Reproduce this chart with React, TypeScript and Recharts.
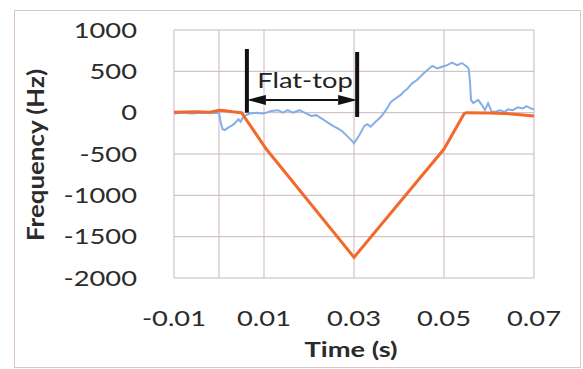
import React from 'react';
import { LineChart, Line, XAxis, YAxis, CartesianGrid, ReferenceLine } from 'recharts';

// Orange trace (reference frequency ramp)
const orangeTimes = [-0.01, -0.005, -0.002, 0.0, 0.001, 0.003, 0.005, 0.0105, 0.03, 0.05, 0.0545, 0.055, 0.06, 0.065, 0.07];
const orangeValues = [5, 10, 5, 30, 25, 10, 0, -440, -1750, -440, -10, 0, -5, -15, -40];

// Blue trace (measured frequency)
const blueTimes = [
  -0.01, -0.008, -0.006, -0.004, -0.002, 0.0, 0.0004, 0.0008, 0.0013, 0.0018, 0.0024, 0.003, 0.0035, 0.0043,
  0.0048, 0.0055, 0.0069, 0.0083, 0.0095, 0.0102, 0.0116, 0.0131, 0.0142, 0.0153, 0.0164, 0.0179, 0.019,
  0.0205, 0.0216, 0.0231, 0.0242, 0.0253, 0.0264, 0.0275, 0.0286, 0.0297, 0.03, 0.0312, 0.0323, 0.033,
  0.0337, 0.0348, 0.036, 0.0371, 0.0382, 0.0393, 0.0404, 0.0411, 0.0418, 0.0429, 0.044, 0.0451, 0.0463,
  0.0474, 0.0485, 0.0496, 0.0507, 0.0518, 0.0529, 0.054, 0.0551, 0.0555, 0.0558, 0.056, 0.0565, 0.0576,
  0.0584, 0.0591, 0.0598, 0.0606, 0.0613, 0.0624, 0.0635, 0.0642, 0.0653, 0.0664, 0.0675, 0.0683, 0.0694, 0.07,
];
const blueValues = [
  -10, 0, -10, 0, -5, 0, -120, -200, -210, -190, -170, -150, -130, -80,
  -110, -40, -10, 0, -10, -5, 20, 30, 0, 30, 0, 30, 0,
  -40, -30, -80, -120, -160, -190, -230, -290, -350, -370, -270, -160, -140,
  -170, -110, -50, 30, 130, 175, 215, 255, 285, 355, 395, 455, 515,
  565, 535, 555, 575, 605, 575, 600, 555, 530, 355, 155, 115, 155,
  95, 30, 115, 10, 10, 30, 10, 40, 30, 65, 50, 80, 50, 40,
];

const xTicks = [-0.01, 0.01, 0.03, 0.05, 0.07];
const yTicks = [-2000, -1500, -1000, -500, 0, 500, 1000];
const gridTimes = [-0.01, 0, 0.01, 0.03, 0.05, 0.07];

const flatTopStart = 0.0062;
const flatTopEnd = 0.0307;
const flatTopStartTop = 770;
const flatTopEndTop = 734;
const flatTopEndBottom = -52;
const flatTopArrowLevel = 154;
const flatTopLabel = 'Flat-top';

const xTitle = 'Time (s)';
const yTitle = 'Frequency (Hz)';

const orangeData = orangeTimes.map((t, i) => ({ t, v: orangeValues[i] }));
const blueData = blueTimes.map((t, i) => ({ t, v: blueValues[i] }));

const FONT = 'Lato, "Open Sans", sans-serif';
const GRID = '#c9b7bc';
const STRETCH = 1.3;
const TEXT = '#2b2b2b';

const YTick = (props: any) => {
  const { x, y, payload } = props;
  return (
    <g transform={`translate(${x},${y}) scale(${STRETCH},1)`}>
      <text x={0} y={0} dy="0.36em" textAnchor="end" fontFamily={FONT} fontSize={21} fill={TEXT}>
        {payload.value}
      </text>
    </g>
  );
};

const XTick = (props: any) => {
  const { x, y, payload } = props;
  return (
    <g transform={`translate(${x},${y}) scale(${STRETCH},1)`}>
      <text x={0} y={0} dy="0.71em" textAnchor="middle" fontFamily={FONT} fontSize={21} fill={TEXT}>
        {Number(payload.value).toFixed(2)}
      </text>
    </g>
  );
};

const ArrowShape = (props: any) => {
  const { x1, y1, x2 } = props;
  const y = y1;
  const head = 19;
  const half = 5;
  const cx = (x1 + x2) / 2;
  return (
    <g>
      <line x1={x1 + head} y1={y} x2={x2 - head} y2={y} stroke="#111" strokeWidth={2} />
      <polygon points={`${x1},${y} ${x1 + head},${y - half} ${x1 + head},${y + half}`} fill="#111" />
      <polygon points={`${x2},${y} ${x2 - head},${y - half} ${x2 - head},${y + half}`} fill="#111" />
      <g transform={`translate(${cx + 3},${y - 12}) scale(${STRETCH},1)`}>
        <text x={0} y={0} textAnchor="middle" fontFamily={FONT} fontSize={21} fill="#222">
          {flatTopLabel}
        </text>
      </g>
    </g>
  );
};

export default function App() {
  return (
    <div style={{ position: 'absolute', left: 0, top: 0, width: 583, height: 369, background: '#fff' }}>
      <div
        style={{
          position: 'absolute',
          left: 14,
          top: 10,
          width: 565,
          height: 356,
          border: '1px solid #d9c6cc',
        }}
      />
      <div style={{ position: 'absolute', left: 0, top: 0 }}>
        <LineChart width={583} height={369} margin={{ top: 30, right: 49, bottom: 0, left: 0 }}>
          <CartesianGrid vertical={false} stroke={GRID} strokeWidth={1} />
          {gridTimes.map((t) => (
            <ReferenceLine key={t} x={t} stroke={GRID} strokeWidth={1} />
          ))}
          <XAxis
            type="number"
            dataKey="t"
            domain={[-0.01, 0.07]}
            ticks={xTicks}
            height={91}
            axisLine={false}
            tickLine={false}
            tickSize={0}
            tickMargin={33}
            tick={<XTick />}
            label={{
              content: () => (
                <g transform={`translate(351,357) scale(${STRETCH},1)`}>
                  <text x={0} y={0} textAnchor="middle" fontFamily={FONT} fontWeight={700} fontSize={21} fill={TEXT}>
                    {xTitle}
                  </text>
                </g>
              ),
            }}
          />
          <YAxis
            type="number"
            domain={[-2000, 1000]}
            ticks={yTicks}
            width={174}
            axisLine={false}
            tickLine={false}
            tickSize={0}
            tickMargin={37}
            tick={<YTick />}
            label={{
              content: () => (
                <text
                  transform="translate(44,155) rotate(-90)"
                  x={0}
                  y={0}
                  textAnchor="middle"
                  fontFamily={FONT}
                  fontWeight={700}
                  fontSize={22}
                  textLength={172}
                  lengthAdjust="spacingAndGlyphs"
                  fill={TEXT}
                >
                  {yTitle}
                </text>
              ),
            }}
          />
          <Line
            data={blueData}
            dataKey="v"
            type="linear"
            stroke="#86aee6"
            strokeWidth={2}
            dot={false}
            isAnimationActive={false}
          />
          <Line
            data={orangeData}
            dataKey="v"
            type="linear"
            stroke="#f26a2a"
            strokeWidth={3}
            dot={false}
            isAnimationActive={false}
          />
          <ReferenceLine
            segment={[{ x: flatTopStart, y: flatTopStartTop }, { x: flatTopStart, y: 0 }]}
            stroke="#111"
            strokeWidth={4}
          />
          <ReferenceLine
            segment={[{ x: flatTopEnd, y: flatTopEndTop }, { x: flatTopEnd, y: flatTopEndBottom }]}
            stroke="#111"
            strokeWidth={4}
          />
          <ReferenceLine
            segment={[{ x: flatTopStart, y: flatTopArrowLevel }, { x: flatTopEnd, y: flatTopArrowLevel }]}
            shape={<ArrowShape />}
          />
        </LineChart>
      </div>
    </div>
  );
}
